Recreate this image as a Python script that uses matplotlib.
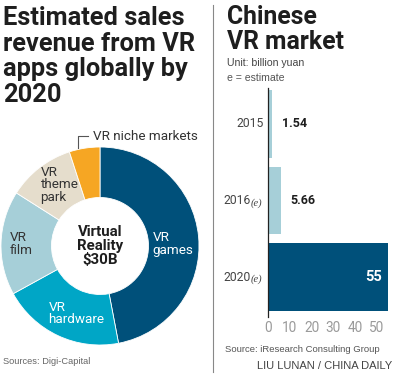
import matplotlib.pyplot as plt

# ---------------- data ----------------
seg_labels = ['VR\ngames', 'VR\nhardware', 'VR\nfilm', 'VR\ntheme\npark', 'VR niche markets']
seg_share = [47, 20, 17, 11, 5]
seg_colors = ['#00507a', '#00a6c6', '#a6cfd8', '#e5ddcc', '#f6a623']

years = ['2015', '2016', '2020']
year_est = ['', '(e)', '(e)']
market = [1.54, 5.66, 55]
bar_colors = ['#a6cfd8', '#a6cfd8', '#00507a']
x_ticks = [0, 10, 20, 30, 40, 50]

W, H = 400, 375
fig = plt.figure(figsize=(W / 100, H / 100), dpi=100)
fig.patch.set_facecolor('white')


def px(x, y):
    return x / W, 1 - y / H


def ftext(x, y, s, **kw):
    fx, fy = px(x, y)
    fig.text(fx, fy, s, **kw)


title_font = ['Roboto', 'DejaVu Sans']
small_font = ['Liberation Sans Narrow', 'Liberation Sans', 'DejaVu Sans']

# ---------------- left: titles ----------------
for i, line in enumerate(['Estimated sales', 'revenue from VR', 'apps globally by', '2020']):
    ftext(3, 25 + i * 25.7, line, fontsize=18.3, fontweight='bold', color='#1e1e1e',
          family=title_font, va='baseline', ha='left')

# ---------------- donut ----------------
cx, cy, r = 100, 246, 99
ax_d = fig.add_axes([(cx - r) / W, (H - cy - r) / H, 2 * r / W, 2 * r / H])
wedges, _ = ax_d.pie(seg_share, colors=seg_colors, startangle=90, counterclock=False,
                     radius=1, wedgeprops=dict(width=0.51, edgecolor='white', linewidth=0.6))
ax_d.set_xlim(-1, 1)
ax_d.set_ylim(-1, 1)
ax_d.set_aspect('equal')
ax_d.axis('off')

ax_d.text(0, 0.0, 'Virtual\nReality\n$30B', ha='center', va='center', fontsize=10.8,
          fontweight='bold', color='#1e1e1e', family=title_font, linespacing=1.0)

seg_text = [
    (0.53, 0.02, 'white', 'left'),
    (-0.52, -0.68, 'white', 'left'),
    (-0.91, 0.02, '#333333', 'left'),
    (-0.60, 0.62, '#333333', 'left'),
]
for (tx, ty, col, ha), lab in zip(seg_text, seg_labels[:4]):
    ax_d.text(tx, ty, lab, ha=ha, va='center', fontsize=9.7, color=col,
              family=title_font, linespacing=0.95)

# niche markets callout
ftext(93, 136, seg_labels[4], fontsize=9.7, color='#333333', family=title_font,
      va='center', ha='left')
fig.add_artist(plt.Line2D([78 / W, 78 / W, 88 / W], [1 - 148 / H, 1 - 136 / H, 1 - 136 / H],
                          transform=fig.transFigure, color='#555555', lw=0.8))

ftext(3, 362, 'Sources: Digi-Capital', fontsize=6.7, color='#666666', family=small_font,
      va='center', ha='left')

# divider
fig.add_artist(plt.Line2D([213 / W, 213 / W], [1 - 5 / H, 1 - 372 / H],
                          transform=fig.transFigure, color='#888888', lw=0.8))

# ---------------- right: titles ----------------
ftext(227, 24, 'Chinese', fontsize=17.8, fontweight='bold', color='#1e1e1e',
      family=title_font, va='baseline', ha='left')
ftext(227, 49, 'VR market', fontsize=17.8, fontweight='bold', color='#1e1e1e',
      family=title_font, va='baseline', ha='left')
ftext(227, 63, 'Unit: billion yuan', fontsize=7.6, color='#444444', family=small_font,
      va='center', ha='left')
ftext(227, 78, 'e = estimate', fontsize=7.6, color='#555555', family=small_font,
      va='center', ha='left')

# ---------------- bars ----------------
ax_b = fig.add_axes([268 / W, 58 / H, 122 / W, 229 / H])
ypos = list(range(len(years)))
ax_b.barh(ypos, market, height=0.88, color=bar_colors, left=0.15)
ax_b.set_xlim(0, 56)
ax_b.set_ylim(2.52, -0.47)
for s in ['top', 'right', 'bottom']:
    ax_b.spines[s].set_visible(False)
ax_b.spines['left'].set_color('#222222')
ax_b.spines['left'].set_linewidth(0.9)
ax_b.set_yticks([])
ax_b.set_xticks(x_ticks)
ax_b.set_xticklabels([str(t) for t in x_ticks], fontsize=9.8, color='#9a9a9a',
                     family=title_font)
ax_b.tick_params(axis='x', length=0, pad=3)

ytr = ax_b.get_yaxis_transform()
for i, (yr, est) in enumerate(zip(years, year_est)):
    if est:
        ax_b.text(-17 / 122, i, yr, transform=ytr, ha='right', va='center', fontsize=8.7,
                  color='#444444', family=title_font)
        ax_b.text(-17 / 122, i + 0.03, est, transform=ytr, ha='left', va='center', fontsize=7.5,
                  color='#444444', family=['Liberation Serif', 'DejaVu Serif'], style='italic')
    else:
        ax_b.text(-4 / 122, i, yr, transform=ytr, ha='right', va='center', fontsize=8.7,
                  color='#444444', family=title_font)

for i, v in enumerate(market):
    if v > 30:
        ax_b.annotate(f'{v:g}', xy=(v, i), xytext=(-4, 0), textcoords='offset points',
                      ha='right', va='center', fontsize=10.5, fontweight='bold',
                      color='white', family=title_font)
    else:
        ax_b.annotate(f'{v:.2f}', xy=(v, i), xytext=(7.5, 0), textcoords='offset points',
                      ha='left', va='center', fontsize=9, fontweight='bold',
                      color='#1e1e1e', family=title_font)

ftext(225, 350, 'Source: iResearch Consulting Group', fontsize=6.8, color='#555555',
      family=small_font, va='center', ha='left')
ftext(392, 366, 'LIU LUNAN / CHINA DAILY', fontsize=8, color='#444444',
      family=small_font, va='center', ha='right')

fig.savefig('out.png', dpi=100, facecolor='white')
